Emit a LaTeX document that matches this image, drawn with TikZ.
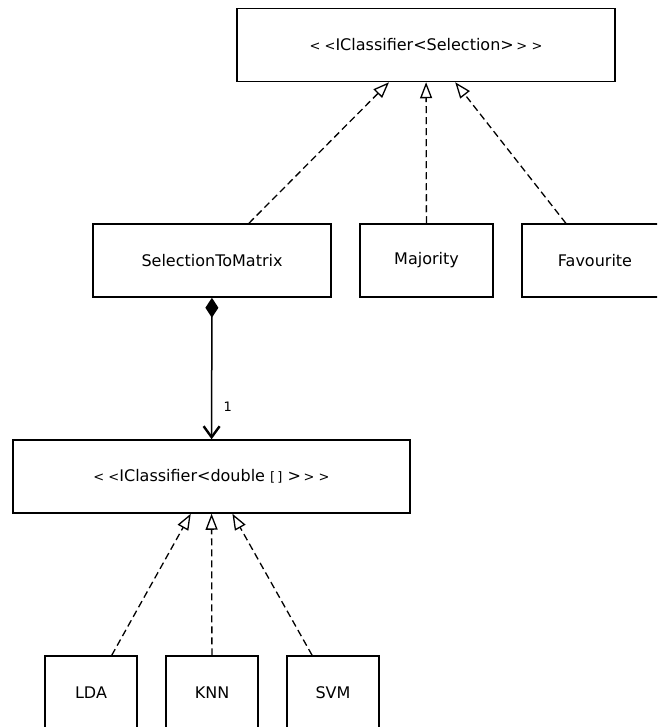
\documentclass[tikz,border=0pt]{standalone}
\usepackage{fontspec}
\setmainfont{DejaVu Sans}
\usetikzlibrary{arrows.meta}

\newcommand{\smb}[1]{{\fontsize{13}{15}\selectfont #1}}

\begin{document}
\begin{tikzpicture}[x=1pt,y=-1pt,
                    font=\fontsize{16}{19}\selectfont,
                    classbox/.style={draw,line width=1.5pt,minimum height=73pt,inner sep=0pt},
                    realizes/.style={line width=1.3pt,dash pattern=on 7pt off 4pt,
                        -{Triangle[open,length=16pt,width=12pt,line width=1.3pt]}},
                    composes/.style={line width=1.5pt,
                        {Diamond[length=20pt,width=13pt]}-{Straight Barb[length=11pt,width=16pt,line width=2.4pt]}}]
    \useasboundingbox (0,0) rectangle (657,727);
    \clip (0,0) rectangle (657,727);
    % interfaces
    \node[classbox,minimum width=378pt] (iface) at (426,45)
        {\smb{< <}IClassifier<Selection>\,\smb{> >}};
    \node[classbox,minimum width=397pt] (idouble) at (211.5,476.5)
        {\smb{< <}IClassifier<double \smb{[\,]} >\,\smb{> >}};
    % selection classifiers
    \node[classbox,minimum width=238pt] (stm) at (212,260.5) {SelectionToMatrix};
    \node[classbox,minimum width=133pt] (majority) at (426.5,260.5) {Majority};
    \node[classbox,minimum width=146pt] (favourite) at (595,260.5) {Favourite};
    % double[] classifiers
    \node[classbox,minimum width=92pt] (lda) at (91,692.5) {LDA};
    \node[classbox,minimum width=92pt] (knn) at (212,692.5) {KNN};
    \node[classbox,minimum width=92pt] (svm) at (333,692.5) {SVM};
    % connectors
    \draw[realizes] (stm) -- (iface);
    \draw[realizes] (majority) -- (iface);
    \draw[realizes] (favourite) -- (iface);
    \draw[composes] (stm) -- node[right=8pt,pos=0.77,font=\fontsize{13}{15}\selectfont] {1} (idouble);
    \draw[realizes] (lda) -- (idouble);
    \draw[realizes] (knn) -- (idouble);
    \draw[realizes] (svm) -- (idouble);
\end{tikzpicture}
\end{document}
